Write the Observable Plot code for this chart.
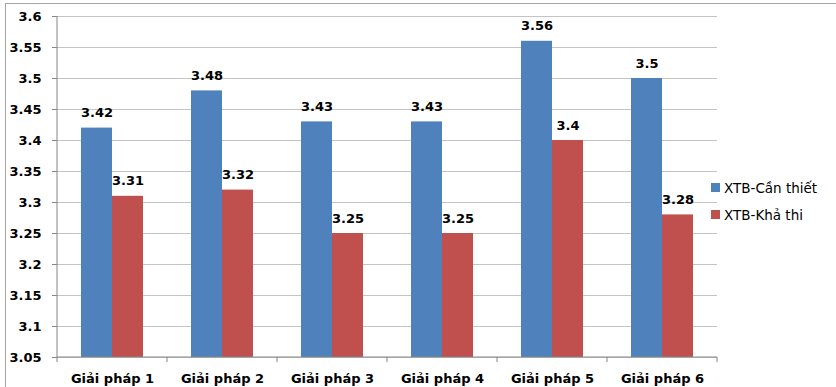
<!DOCTYPE html>
<html><head><meta charset="utf-8">
<script src="https://cdn.jsdelivr.net/npm/d3@7"></script>
<script src="https://cdn.jsdelivr.net/npm/@observablehq/plot@0.6"></script>
<style>
body{margin:0;background:#fff;overflow:hidden;font-family:"DejaVu Sans",sans-serif;}
#wrap{position:relative;width:836px;height:387px;overflow:hidden;}
#frame{position:absolute;left:5px;top:3px;width:900px;height:500px;border-left:1.5px solid #a6a6a6;border-top:1.5px solid #a6a6a6;box-sizing:border-box;}
#chart{position:absolute;left:0;top:0;}
#legend{position:absolute;left:711px;top:174px;font-size:13.5px;color:#000;}
#legend div{display:flex;align-items:center;height:27px;}
#legend span.sw{display:inline-block;width:9px;height:9px;margin-right:4px;}
</style>
</head><body>
<div id="wrap"><div id="frame"></div><div id="chart"></div><div id="legend"></div></div>
<script>
const categories = ["Giải pháp 1","Giải pháp 2","Giải pháp 3","Giải pháp 4","Giải pháp 5","Giải pháp 6"];
const seriesNames = ["XTB-Cần thiết","XTB-Khả thi"];
const canThiet = [3.42,3.48,3.43,3.43,3.56,3.5];
const khaThi = [3.31,3.32,3.25,3.25,3.4,3.28];
const yTicks = [3.05,3.1,3.15,3.2,3.25,3.3,3.35,3.4,3.45,3.5,3.55,3.6];
const colors = ["#4F81BD","#C0504D"];

const table = categories.flatMap((c,i)=>[
  {cat:c, series:seriesNames[0], value:canThiet[i]},
  {cat:c, series:seriesNames[1], value:khaThi[i]}
]);
const yMin = yTicks[0], yMax = yTicks[yTicks.length-1];

const plot = Plot.plot({
  width:836, height:387,
  marginLeft:56, marginRight:118, marginTop:16, marginBottom:30,
  style:{fontFamily:"DejaVu Sans", fontSize:"13px", fontWeight:"bold", color:"#000", background:"transparent", overflow:"visible"},
  fx:{domain:categories, padding:0, label:null, axis:"bottom", tickSize:0, tickPadding:16},
  x:{domain:seriesNames, paddingInner:0, paddingOuter:0.72, axis:null},
  y:{domain:[yMin,yMax], ticks:yTicks, tickFormat:d=>String(+d.toFixed(2)), label:null, tickSize:5, tickPadding:11},
  color:{domain:seriesNames, range:colors},
  marks:[
    Plot.ruleY(yTicks, {stroke:"#c4c4c4", strokeWidth:1}),
    Plot.barY(table, {fx:"cat", x:"series", y1:yMin, y2:"value", fill:"series"}),
    Plot.text(table, {fx:"cat", x:"series", y:"value", text:d=>String(d.value), dy:-15, fontWeight:"bold", fontSize:13, fill:"#000"})
  ]
});
document.getElementById("chart").appendChild(plot);

const svg = d3.select(plot);
svg.selectAll("[aria-label='y-axis tick'] path, [aria-label='y-axis tick']").attr("stroke","#868686");
const fx = plot.scale("fx"), y = plot.scale("y");
const x0 = fx.apply(categories[0]);
const xs = categories.map(c=>fx.apply(c)).concat([fx.apply(categories[categories.length-1]) + fx.bandwidth]);
const yb = y.apply(yMin), yt = y.apply(yMax);
const g = svg.append("g").attr("stroke","#868686").attr("stroke-width",1);
g.append("line").attr("x1",x0).attr("x2",x0).attr("y1",yt).attr("y2",yb);
g.append("line").attr("x1",x0).attr("x2",xs[xs.length-1]).attr("y1",yb).attr("y2",yb);
xs.forEach(x=>g.append("line").attr("x1",x).attr("x2",x).attr("y1",yb).attr("y2",yb+5));

const legend = d3.select("#legend");
seriesNames.forEach((s,i)=>{
  const row = legend.append("div");
  row.append("span").attr("class","sw").style("background",colors[i]);
  row.append("span").text(s);
});
</script>
</body></html>
